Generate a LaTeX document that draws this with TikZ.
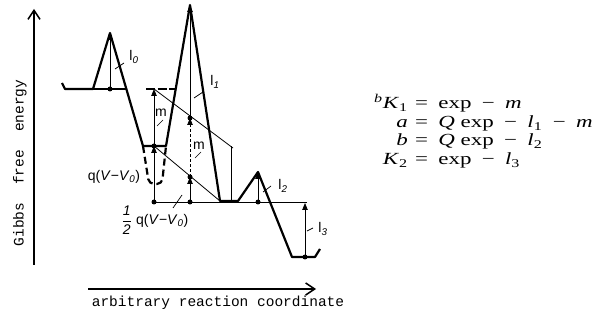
\documentclass[tikz,border=0pt]{standalone}
\usepackage{fontspec}
\setmainfont{Liberation Serif}
\setsansfont{Liberation Sans}
\setmonofont{Liberation Mono}
\usetikzlibrary{arrows.meta}
\begin{document}
\begin{tikzpicture}[x=1pt,y=-1pt,
  bold/.style={line width=2.2pt, line join=round},
  thinl/.style={line width=0.8pt},
  tip/.style={-{Triangle[length=7pt,width=5.5pt]}},
  dot/.style={circle,fill,inner sep=0pt,minimum size=5pt},
  lbl/.style={font=\sffamily\fontsize{14}{14}\selectfont, inner sep=0pt},
  lead/.style={line width=0.7pt},
  axis/.style={line width=1.5pt, -{Straight Barb[length=9pt,width=12pt]}},
  eq/.style={font=\fontsize{17}{17}\selectfont, inner sep=0pt},
  mono/.style={font=\ttfamily\fontsize{14.5}{14.5}\selectfont, inner sep=0pt},
]
\useasboundingbox (0,0) rectangle (600,323);

% axes
\coordinate (ya0) at (34,265);
\coordinate (ya1) at (34,9);
\coordinate (xa0) at (88,289);
\coordinate (xa1) at (316,289);
\draw[axis] (ya0) -- (ya1);
\draw[axis] (xa0) -- (xa1);
\node[mono, rotate=90] (ylab) at (20,163) {Gibbs\hspace{18pt}free\hspace{18pt}energy};
\node[mono] (xlab) at (218,303) {arbitrary reaction coordinate};

% profile points
\coordinate (s0) at (62,83);
\coordinate (s1) at (65,89);
\coordinate (s2) at (93,89);
\coordinate (p0) at (110,33);
\coordinate (t1) at (143,146);
\coordinate (t2) at (166,146);
\coordinate (p1) at (190,5);
\coordinate (u1) at (220,201);
\coordinate (u2) at (238,201);
\coordinate (p2) at (258,172);
\coordinate (w1) at (292,257);
\coordinate (w2) at (315,257);
\coordinate (w3) at (320,249);

% level points
\coordinate (c1) at (126,89);
\coordinate (c2) at (146,89);
\coordinate (c3) at (175,89);
\coordinate (d0) at (110,89);
\coordinate (b0) at (154,89);
\coordinate (a0) at (154,146);
\coordinate (c0) at (154,202);
\coordinate (e0) at (190,118);
\coordinate (e1) at (190,177);
\coordinate (e2) at (190,202);
\coordinate (f0) at (258,202);
\coordinate (h0) at (231,146);
\coordinate (h1) at (231,201);
\coordinate (hd) at (233,148);
\coordinate (r0) at (307,202);
\coordinate (g0) at (305,257);
\coordinate (g1) at (305,203);
\coordinate (v1) at (149,184);
\coordinate (v2) at (162,184);

% thin construction lines
\draw[line width=1.2pt] (s2) -- (c1);
\draw[line width=1.2pt, dash pattern=on 9pt off 2.5pt] (c2) -- (c3);
\draw[thinl] (c0) -- (r0);
\draw[thinl] (b0) -- (hd);
\draw[thinl] (a0) -- (u1);
\draw[thinl] (h1) -- (h0);

% energy profile
\draw[bold] (s0) -- (s1) -- (s2) -- (p0) -- (t1) -- (t2) -- (p1) -- (u1) -- (u2) -- (p2) -- (w1) -- (w2) -- (w3);
\draw[bold, dash pattern=on 7pt off 4pt, rounded corners=5pt] (t1) -- (v1) -- (v2) -- (t2);

% vertical arrows
\draw[thinl,tip] (d0) -- (p0);
\draw[thinl,tip] (c0) -- (a0);
\draw[thinl,tip] (a0) -- (b0);
\draw[thinl,tip] (e2) -- (e1);
\draw[thinl,tip,densely dashed] (e1) -- (e0);
\draw[thinl,tip] (e0) -- (p1);
\draw[thinl,tip] (f0) -- (p2);
\draw[thinl,tip] (g0) -- (g1);

% dots
\foreach \p in {d0,a0,c0,e0,e1,e2,f0,g0} \node[dot] at (\p) {};

% leaders
\coordinate (k0a) at (115,69); \coordinate (k0b) at (124,63);
\coordinate (k1a) at (157,126); \coordinate (k1b) at (163,120);
\coordinate (k2a) at (194,98); \coordinate (k2b) at (203,92);
\coordinate (k3a) at (195,158); \coordinate (k3b) at (201,152);
\coordinate (k4a) at (263,192); \coordinate (k4b) at (271,186);
\coordinate (k5a) at (307,231); \coordinate (k5b) at (313,228);
\coordinate (k6a) at (173,208); \coordinate (k6b) at (182,195);
\foreach \i in {0,...,6} \draw[lead] (k\i a) -- (k\i b);

% labels
\node[lbl] (l0) at (134,57) {l\textsubscript{\textit{0}}};
\node[lbl] (m1) at (161,113) {m};
\node[lbl] (l1) at (215,82) {l\textsubscript{\textit{1}}};
\node[lbl] (m2) at (199,146) {m};
\node[lbl] (l2) at (283,186) {l\textsubscript{\textit{2}}};
\node[lbl] (l3) at (323,229) {l\textsubscript{\textit{3}}};
\node[lbl] (q1) at (114,177) {q(\textit{V}−\textit{V}\textsubscript{\textit{0}})};
\node[lbl] (q2) at (155,220) {$\displaystyle\frac{\textit{1}}{\textit{2}}$\hspace{0.3em}q(\textit{V}−\textit{V}\textsubscript{\textit{0}})};

% equations
\node[eq, anchor=base east] (e1l) at (408,109) {\scalebox{1.35}[1]{\textsuperscript{\textit{b}}\textit{K}\textsubscript{1}}};
\node[eq, anchor=base west] (e1r) at (408,109) {\scalebox{1.35}[1]{\hspace{0.3em}=\hspace{0.45em}exp\hspace{0.45em}−\hspace{0.45em}\textit{m}}};
\node[eq, anchor=base east] (e2l) at (408,127.5) {\scalebox{1.35}[1]{\textit{a}}};
\node[eq, anchor=base west] (e2r) at (408,127.5) {\scalebox{1.35}[1]{\hspace{0.3em}=\hspace{0.45em}\textit{Q} exp\hspace{0.45em}−\hspace{0.45em}\textit{l}\textsubscript{1}\hspace{0.45em}−\hspace{0.45em}\textit{m}}};
\node[eq, anchor=base east] (e3l) at (408,146) {\scalebox{1.35}[1]{\textit{b}}};
\node[eq, anchor=base west] (e3r) at (408,146) {\scalebox{1.35}[1]{\hspace{0.3em}=\hspace{0.45em}\textit{Q} exp\hspace{0.45em}−\hspace{0.45em}\textit{l}\textsubscript{2}}};
\node[eq, anchor=base east] (e4l) at (408,164.5) {\scalebox{1.35}[1]{\textit{K}\textsubscript{2}}};
\node[eq, anchor=base west] (e4r) at (408,164.5) {\scalebox{1.35}[1]{\hspace{0.3em}=\hspace{0.45em}exp\hspace{0.45em}−\hspace{0.45em}\textit{l}\textsubscript{3}}};
\end{tikzpicture}
\end{document}
